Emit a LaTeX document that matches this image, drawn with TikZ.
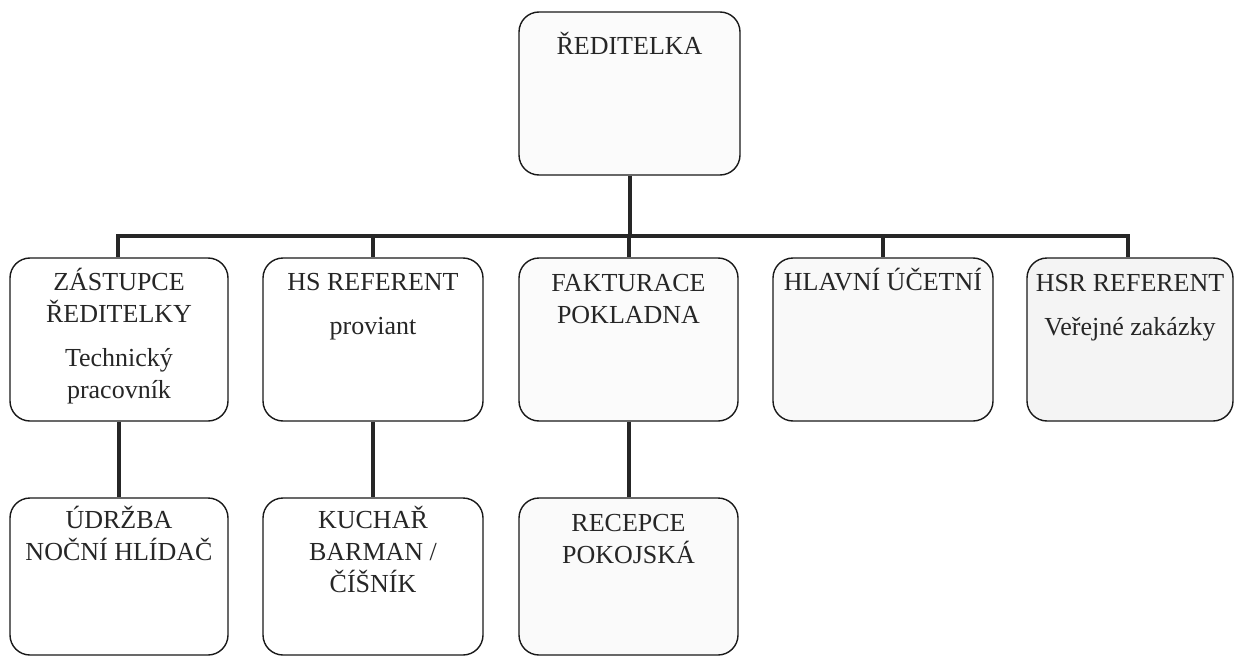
\documentclass[tikz,border=0pt]{standalone}
\usepackage{fontspec}
\setmainfont{Liberation Serif}
\newcommand{\firstl}{\rule{0pt}{25pt}}
\begin{document}
\begin{tikzpicture}[x=1pt,y=-1pt,
  box/.style={draw=black!90, line width=1.4pt, rounded corners=20pt, inner sep=0pt, fill=#1},
  box/.default=white,
  conn/.style={draw=black!85, line width=4pt},
  txt/.style={anchor=north, align=center, inner sep=0pt, font=\fontsize{26}{32}\selectfont, text=black!85}]
\useasboundingbox[fill=white] (0,0) rectangle (1236,658);

% boxes
\node[box=gray!3, minimum width=221pt, minimum height=163pt] (top) at (629.5,93.5) {};
\node[box, minimum width=218pt, minimum height=163pt] (zast) at (119,339.5) {};
\node[box, minimum width=220pt, minimum height=163pt] (hs) at (373,339.5) {};
\node[box=gray!3, minimum width=219pt, minimum height=163pt] (fakt) at (628.5,339.5) {};
\node[box=gray!5, minimum width=220pt, minimum height=163pt] (hlav) at (883,339.5) {};
\node[box=gray!9, minimum width=206pt, minimum height=163pt] (hsr) at (1130,339.5) {};
\node[box, minimum width=218pt, minimum height=157pt] (udr) at (119,576.5) {};
\node[box, minimum width=220pt, minimum height=157pt] (kuch) at (373,576.5) {};
\node[box=gray!4, minimum width=219pt, minimum height=157pt] (rec) at (628.5,576.5) {};

% texts (first baseline = y + 25)
\node[txt] (ttop) at (629.5,29) {\firstl ŘEDITELKA};
\node[txt] (tzast) at (119,265) {\firstl ZÁSTUPCE\\ŘEDITELKY\\[12pt]Technický\\pracovník};
\node[txt] (ths) at (373,265) {\firstl HS REFERENT\\[12pt]proviant};
\node[txt] (tfakt) at (628.5,266) {\firstl FAKTURACE\\POKLADNA};
\node[txt] (thlav) at (883,265) {\firstl HLAVNÍ ÚČETNÍ};
\node[txt] (thsr) at (1130,266) {\firstl HSR REFERENT\\[12pt]Veřejné zakázky};
\node[txt] (tudr) at (119,503) {\firstl ÚDRŽBA\\NOČNÍ HLÍDAČ};
\node[txt] (tkuch) at (373,503) {\firstl KUCHAŘ\\BARMAN /\\ČÍŠNÍK};
\node[txt] (trec) at (628.5,506) {\firstl RECEPCE\\POKOJSKÁ};

% connectors
\coordinate (bus) at (629,236);
\coordinate (busL) at (118,236);
\coordinate (busR) at (1128,236);
\draw[conn] (top.south) -- (top.south |- bus);
\draw[conn, line cap=rect] (busL) -- (busR);
\draw[conn] (busL) -- (busL |- zast.north);
\draw[conn] (hs.north |- bus) -- (hs.north);
\draw[conn] (bus) -- (bus |- fakt.north);
\draw[conn] (hlav.north |- bus) -- (hlav.north);
\draw[conn] (busR) -- (busR |- hsr.north);
\draw[conn] (zast.south) -- (udr.north);
\draw[conn] (hs.south) -- (kuch.north);
\draw[conn] (fakt.south) -- (rec.north);
\end{tikzpicture}
\end{document}
